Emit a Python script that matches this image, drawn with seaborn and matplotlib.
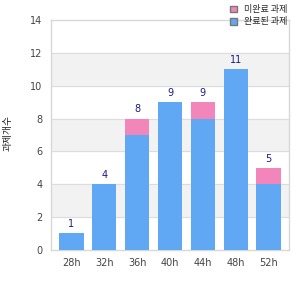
import matplotlib
matplotlib.use("Agg")
import matplotlib.pyplot as plt
import seaborn as sns
import pandas as pd
from matplotlib.patches import Patch

hours = ['28h', '32h', '36h', '40h', '44h', '48h', '52h']
done = [1, 4, 7, 9, 8, 11, 4]
not_done = [0, 0, 1, 0, 1, 0, 1]
totals = [d + n for d, n in zip(done, not_done)]

label_not_done = '미완료 과제'
label_done = '완료된 과제'
y_label = '과제개수'

sns.set_style('white')
plt.rcParams['font.family'] = ['DejaVu Sans', 'Noto Sans CJK KR']

blue = '#60a8f4'
pink = '#f285b9'

df = pd.DataFrame({'hour': hours, 'done': done, 'total': totals})

fig = plt.figure(figsize=(3, 3), dpi=100)
ax = fig.add_axes([0.17, 0.167, 0.793, 0.766])

for lo in (2, 6, 10):
    ax.axhspan(lo, lo + 2, color='#f2f2f2', zorder=0)
for y in range(2, 14, 2):
    ax.axhline(y, color='#dddddd', lw=0.8, zorder=0.5)

sns.barplot(data=df, x='hour', y='total', color=pink, width=0.74,
            saturation=1, linewidth=0, ax=ax, zorder=2)
sns.barplot(data=df, x='hour', y='done', color=blue, width=0.74,
            saturation=1, linewidth=0, ax=ax, zorder=3)

for i, t in enumerate(totals):
    ax.text(i, t + 0.25, str(t), ha='center', va='bottom',
            fontsize=7, color='#1a1a8a', zorder=4)

ax.set_ylim(0, 14)
ax.set_xlim(-0.62, 6.62)
ax.set_yticks(range(0, 15, 2))
ax.set_xlabel('')
ax.set_ylabel('')
ax.tick_params(axis='both', length=0, labelsize=7, colors='#444444', pad=6)
for s in ax.spines.values():
    s.set_color('#d8d8d8')
    s.set_linewidth(1)

fig.text(0.025, 0.555, y_label, rotation=90, ha='center', va='center',
         fontsize=7, color='#222222',
         family=['Noto Sans CJK KR', 'DejaVu Sans'])

handles = [Patch(facecolor=pink, edgecolor='#777777', label=label_not_done),
           Patch(facecolor=blue, edgecolor='#777777', label=label_done)]
leg = fig.legend(handles=handles, loc='upper left', bbox_to_anchor=(0.74, 1.01),
                 frameon=False, handlelength=0.8, handleheight=0.8,
                 handletextpad=0.7, labelspacing=0.35,
                 prop={'family': ['Noto Sans CJK KR', 'DejaVu Sans'], 'size': 6.5})

fig.savefig('out.png', dpi=100)
